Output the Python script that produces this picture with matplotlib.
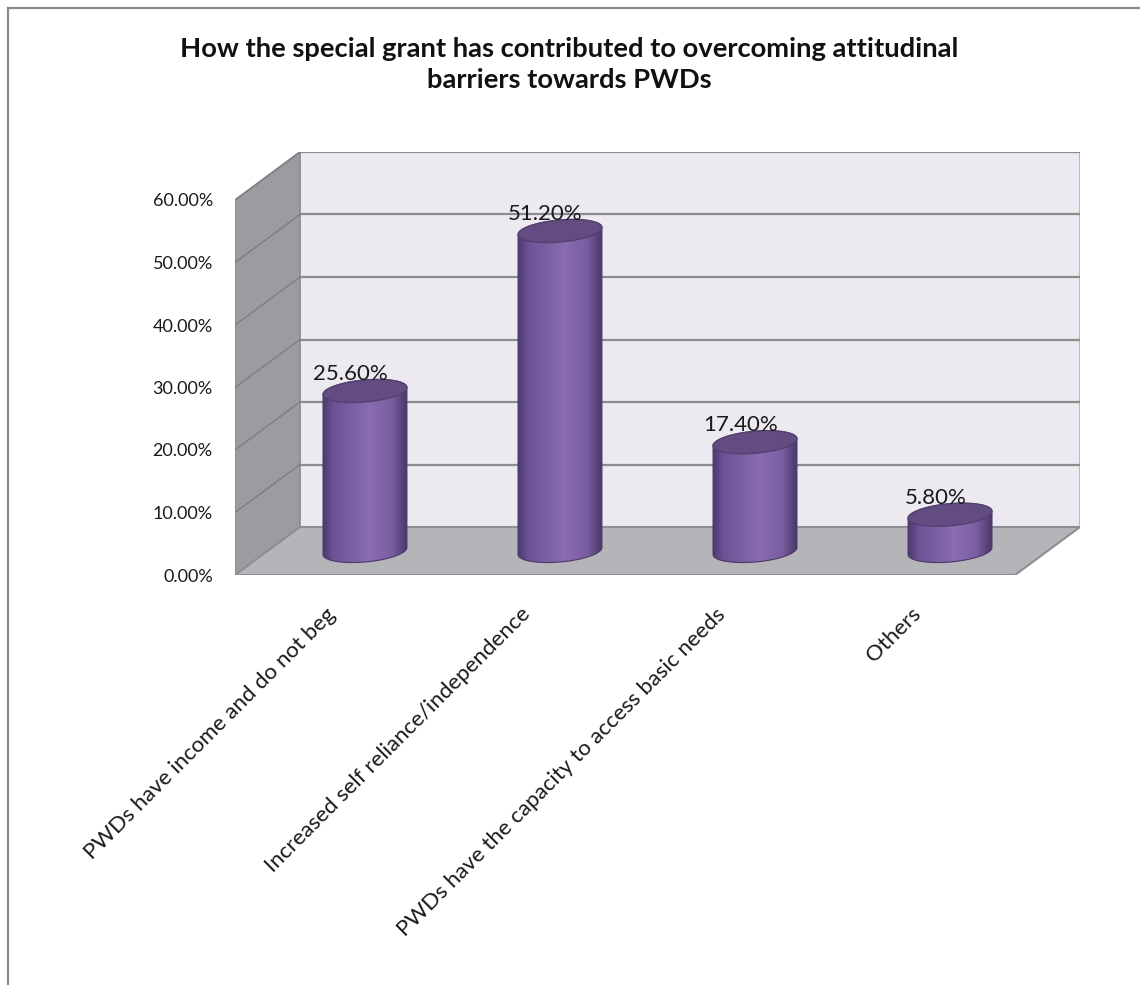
import numpy as np
import matplotlib
matplotlib.use('Agg')
import matplotlib.pyplot as plt
import matplotlib.patches as patches
from matplotlib.colors import LinearSegmentedColormap
from matplotlib.lines import Line2D

plt.rcParams['font.family'] = ['Lato', 'DejaVu Sans']

# -------------------------- data --------------------------
categories = [
    'PWDs have income and do not beg',
    'Increased self reliance/independence',
    'PWDs have the capacity to access basic needs',
    'Others',
]
values = [25.6, 51.2, 17.4, 5.8]  # percent
value_labels = ['25.60%', '51.20%', '17.40%', '5.80%']
y_ticks = [0, 10, 20, 30, 40, 50, 60]
y_tick_labels = ['0.00%', '10.00%', '20.00%', '30.00%', '40.00%', '50.00%', '60.00%']
title = 'How the special grant has contributed to overcoming attitudinal\nbarriers towards PWDs'

# -------------------------- 3D look parameters --------------------------
Y_MAX = 60
DEPTH_X = 0.333     # depth offset in category units
DEPTH_Y = 7.68      # depth offset in percent units
RAD_X = 0.215       # cylinder radius (x units)
RAD_Y = 1.76        # ellipse half height (y units)
SHEAR = 0.56        # tilt of the ellipses

BACK_WALL = '#ECEAF0'
SIDE_WALL = '#9C9BA0'
FLOOR = '#B5B4B9'
EDGE = '#8E8E92'
GRID = '#8C8C8C'
TOP_COLOR = '#624C82'

body_cmap = LinearSegmentedColormap.from_list(
    'cyl', [(0.0, '#4c3a6e'), (0.12, '#6a5395'), (0.55, '#8a6cb0'),
            (0.82, '#7a5ea3'), (1.0, '#4a3868')])


def ellipse_pts(cx, cy, t):
    return np.column_stack([cx + RAD_X * np.cos(t), cy + RAD_Y * np.sin(t) + SHEAR * np.cos(t)])


def main():
    fig = plt.figure(figsize=(11.4, 9.85), dpi=100)
    ax = fig.add_axes([235 / 1140, 410 / 985, 845 / 1140, 423 / 985])
    ax.set_facecolor('none')
    n = len(categories)
    x0 = -0.5
    x1 = n - 0.5

    # 背景墙
    ax.add_patch(patches.Polygon([(x0 + DEPTH_X, DEPTH_Y), (x1 + DEPTH_X, DEPTH_Y),
                                  (x1 + DEPTH_X, Y_MAX + DEPTH_Y), (x0 + DEPTH_X, Y_MAX + DEPTH_Y)],
                                 facecolor=BACK_WALL, edgecolor='#B0B0B4', lw=1.2, zorder=1))
    # 侧墙
    ax.add_patch(patches.Polygon([(x0, 0), (x0 + DEPTH_X, DEPTH_Y),
                                  (x0 + DEPTH_X, Y_MAX + DEPTH_Y), (x0, Y_MAX)],
                                 facecolor=SIDE_WALL, edgecolor=EDGE, lw=1.2, zorder=1))
    # 地板
    ax.add_patch(patches.Polygon([(x0, 0), (x1, 0), (x1 + DEPTH_X, DEPTH_Y), (x0 + DEPTH_X, DEPTH_Y)],
                                 facecolor=FLOOR, edgecolor=EDGE, lw=1.5, zorder=2))

    # 网格线
    for v in y_ticks[1:]:
        ax.plot([x0 + DEPTH_X, x1 + DEPTH_X], [v + DEPTH_Y, v + DEPTH_Y], color=GRID, lw=1.6, zorder=1.5)
        ax.plot([x0, x0 + DEPTH_X], [v, v + DEPTH_Y], color='#7E7E82', lw=1.0, zorder=1.5)

    # 圆柱
    t_low = np.linspace(np.pi, 2 * np.pi, 60)
    t_up = np.linspace(0, np.pi, 60)
    t_all = np.linspace(0, 2 * np.pi, 120)
    grad = np.linspace(0, 1, 256).reshape(1, -1)
    for i, v in enumerate(values):
        cx = i + DEPTH_X / 2
        yb = DEPTH_Y / 2
        yt = yb + v
        outline = np.vstack([ellipse_pts(cx, yb, t_low), ellipse_pts(cx, yt, t_up)])
        body = patches.Polygon(outline, closed=True, facecolor='none', edgecolor='#4a3868',
                               lw=0.8, zorder=4)
        ax.add_patch(body)
        im = ax.imshow(grad, cmap=body_cmap, aspect='auto', interpolation='bilinear',
                       extent=[cx - RAD_X, cx + RAD_X, yb - RAD_Y - SHEAR, yt + RAD_Y + SHEAR],
                       zorder=3)
        im.set_clip_path(body)
        ax.add_patch(patches.Polygon(ellipse_pts(cx, yt, t_all), closed=True,
                                     facecolor=TOP_COLOR, edgecolor='#54416f', lw=1.0, zorder=5))
        ax.text(cx - 0.075, yt + 2.7, value_labels[i], ha='center', va='center',
                fontsize=16, color='#1a1a1a', zorder=6)

    ax.set_xlim(x0, x1 + DEPTH_X)
    ax.set_ylim(0, Y_MAX + DEPTH_Y)
    ax.set_yticks(y_ticks, y_tick_labels, fontsize=13, color='#1a1a1a')
    ax.set_xticks(range(n), categories, fontsize=16, rotation=45, ha='right', va='center',
                  rotation_mode='anchor', color='#1a1a1a')
    ax.tick_params(axis='y', length=0, pad=16)
    ax.tick_params(axis='x', length=0, pad=26)
    for sp in ax.spines.values():
        sp.set_visible(False)

    fig.text(0.499, 1 - 64.5 / 985, title, ha='center', va='center', fontsize=19.7,
             fontweight='bold', linespacing=1.36, color='#111111')

    # 外框
    fig.add_artist(Line2D([8 / 1140, 1], [1 - 8 / 985, 1 - 8 / 985], color='#8a8a8a', lw=1.6))
    fig.add_artist(Line2D([8 / 1140, 8 / 1140], [0, 1 - 8 / 985], color='#8a8a8a', lw=1.6))

    fig.savefig('out.png', dpi=100, facecolor='white')


if __name__ == '__main__':
    main()
